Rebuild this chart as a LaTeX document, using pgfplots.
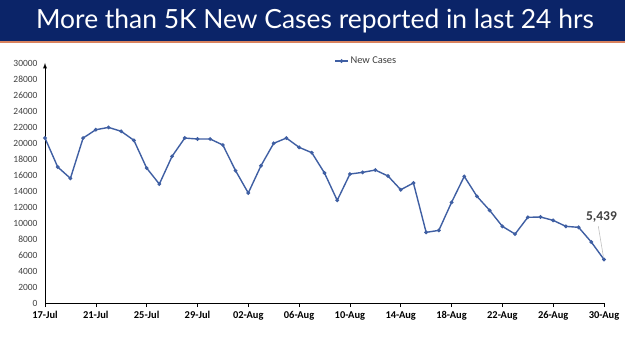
\documentclass[border=0pt]{standalone}
\usepackage{pgfplots}
\pgfplotsset{compat=1.18}
\usepackage{fontspec}
\setmainfont{Carlito}
\newfontfamily\titlefont{Lato}
\definecolor{navy}{HTML}{0B2468}
\definecolor{rule}{HTML}{D9825E}
\definecolor{series}{HTML}{3F5FA3}
\definecolor{ticktext}{HTML}{404040}
\begin{document}
\begin{tikzpicture}[x=1bp,y=1bp]
\fill[white] (0,0) rectangle (625,351);
\fill[navy] (0,310) rectangle (625,351);
\fill[rule] (0,308.5) rectangle (625,310);
\node[text=white, font=\titlefont\fontsize{26.5}{30}\selectfont] at (315,330) {More than 5K New Cases reported in last 24 hrs};
\begin{axis}[
  at={(45bp,48bp)}, anchor=origin,
  scale only axis, width=559bp, height=240bp,
  xmin=0, xmax=44, ymin=0, ymax=30000,
  axis x line*=bottom, axis y line=left,
  y axis line style={-latex, line width=0.9pt},
  x axis line style={line width=0.9pt},
  ytick={0,2000,...,30000},
  xtick={0,4,...,44},
  xticklabels={17-Jul,21-Jul,25-Jul,29-Jul,02-Aug,06-Aug,10-Aug,14-Aug,18-Aug,22-Aug,26-Aug,30-Aug},
  x tick label style={font=\bfseries\fontsize{10.5}{12}\selectfont, text=black, yshift=-1bp},
  y tick label style={font=\fontsize{9.5}{11}\selectfont, text=ticktext},
  /pgf/number format/assume math mode=true,
  scaled y ticks=false,
  yticklabel={\pgfmathprintnumber[1000 sep={}]{\tick}},
  major tick length=4bp,
  xtick style={black, line width=0.6pt},
  ytick style={draw=none},
  tick align=outside,
  legend style={at={(0.575,1.008)}, anchor=center, draw=none, fill=none,
    font=\fontsize{10.5}{12}\selectfont, text=ticktext},
  legend image code/.code={\draw[#1, mark repeat=2, mark phase=2] plot coordinates {(0cm,0cm) (0.22cm,0cm) (0.44cm,0cm)};},
  clip=false,
]
\addplot[series, line width=1.4pt, mark=*, mark size=1.1pt] coordinates {
(0,20620) (1,17000) (2,15580) (3,20620) (4,21660) (5,21950) (6,21460) (7,20330)
(8,16870) (9,14870) (10,18330) (11,20620) (12,20500) (13,20500) (14,19750)
(15,16540) (16,13750) (17,17160) (18,19960) (19,20620) (20,19460) (21,18790)
(22,16250) (23,12830) (24,16120) (25,16330) (26,16620) (27,15870) (28,14160)
(29,15000) (30,8830) (31,9080) (32,12580) (33,15830) (34,13330) (35,11580)
(36,9580) (37,8620) (38,10710) (39,10750) (40,10330) (41,9580) (42,9460)
(43,7620) (44,5439)
};
\addlegendentry{New Cases}
\draw[gray!50, line width=0.6pt] (axis cs:43.55,9600) -- (axis cs:43.95,5800);
\node[font=\bfseries\fontsize{13.5}{15}\selectfont, text=ticktext] at (axis cs:43.8,10700) {5,439};
\end{axis}
\end{tikzpicture}
\end{document}
